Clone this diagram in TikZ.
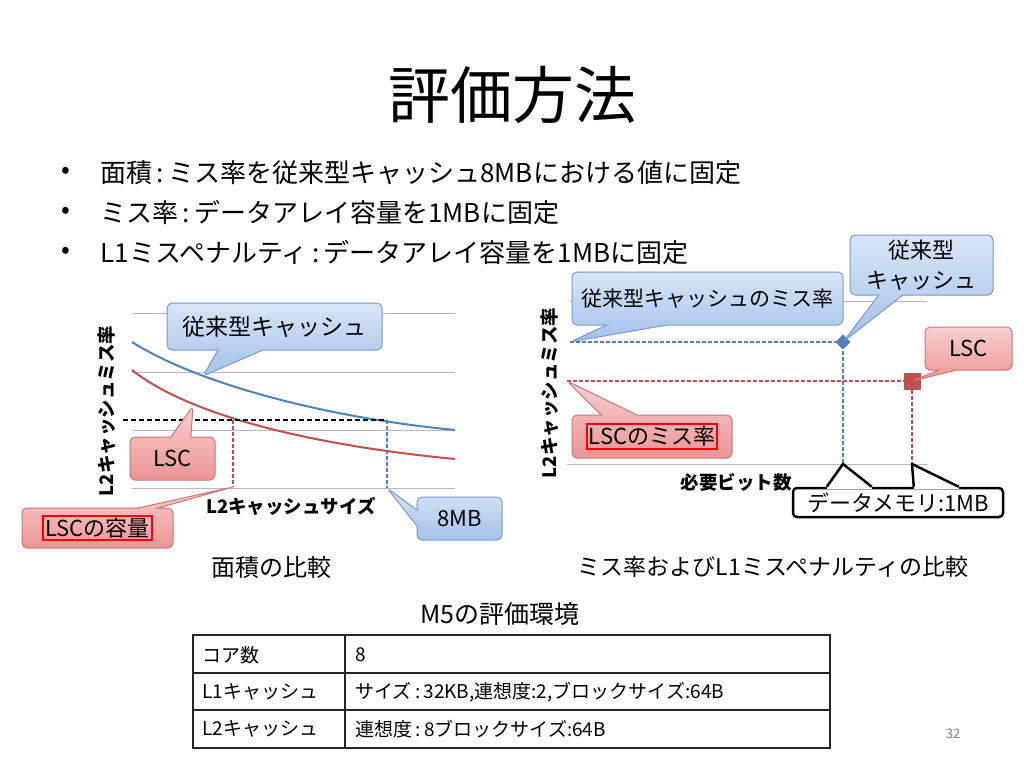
\documentclass[tikz,border=0pt]{standalone}
\usepackage{fontspec}
\setmainfont{Noto Sans CJK JP}
\usetikzlibrary{shapes.callouts,shapes.geometric}

\definecolor{calloutbluetop}{RGB}{216,229,246}
\definecolor{calloutbluebot}{RGB}{164,194,234}
\definecolor{calloutblueedge}{RGB}{120,155,205}
\definecolor{calloutredtop}{RGB}{249,208,208}
\definecolor{calloutredbot}{RGB}{236,148,148}
\definecolor{calloutrededge}{RGB}{205,118,118}
\definecolor{seriesblue}{RGB}{79,129,189}
\definecolor{seriesred}{RGB}{192,80,77}

\tikzset{
  gridline/.style={draw=gray!55, line width=0.8pt},
  callout base/.style={rectangle callout, rounded corners=5pt, line width=1pt,
    inner sep=0pt, align=center, font=\fontsize{22}{30}\selectfont},
  bluecall/.style={callout base, draw=calloutblueedge,
    top color=calloutbluetop, bottom color=calloutbluebot},
  redcall/.style={callout base, draw=calloutrededge,
    top color=calloutredtop, bottom color=calloutredbot},
  axislabel/.style={font=\fontsize{18.5}{20}\selectfont\bfseries},
  bluedash/.style={seriesblue, line width=1.2pt, dash pattern=on 4pt off 2pt},
  reddash/.style={seriesred, line width=1.2pt, dash pattern=on 4pt off 2pt},
  memedge/.style={black, line width=2.5pt, line join=round}
}

\newcommand{\redframe}[1]{\textcolor{red}{\setlength{\fboxrule}{2pt}\setlength{\fboxsep}{1pt}\fbox{\textcolor{black}{#1}}}}

\begin{document}
\begin{tikzpicture}[x=1pt, y=-1pt]
  \useasboundingbox[fill=white] (0,0) rectangle (1024,768);

  % Titulo y puntos
  \node (title) at (512,95) {\fontsize{62}{66}\selectfont 評価方法};
  \begin{scope}[every node/.style={anchor=west, font=\fontsize{26}{30}\selectfont}]
    \node (b1) at (58,173) {•};
    \node (b2) at (58,213) {•};
    \node (b3) at (58,253) {•};
    \node (t1) at (97,173) {面積\,:\,ミス率を従来型キャッシュ8MBにおける値に固定};
    \node (t2) at (97,213) {ミス率\,:\,データアレイ容量を1MBに固定};
    \node (t3) at (97,253) {L1ミスペナルティ\,:\,データアレイ容量を1MBに固定};
  \end{scope}

  % Grafico izquierdo (area)
  \foreach \y in {313,372,430,488}
    \draw[gridline] (132,\y) -- (455,\y);
  \draw[seriesblue, line width=2pt] (132,342) .. controls (200,385) and (330,418) .. (455,430);
  \draw[seriesred, line width=2pt] (132,370) .. controls (195,420) and (330,447) .. (455,459);
  \coordinate (cap) at (233,420);
  \coordinate (conv) at (387,420);
  \coordinate (capx) at (233,487);
  \coordinate (convx) at (387,488);
  \draw[black, line width=1.5pt, dash pattern=on 5pt off 3pt] (123,420) -- (conv);
  \draw[reddash] (cap) -- (capx);
  \draw[bluedash] (conv) -- (convx);
  \node[axislabel, rotate=90] (ylab1) at (107,411) {L2キャッシュミス率};
  \node[axislabel] (xlab1) at (291,506) {L2キャッシュサイズ};

  \coordinate (bluecurve) at (203,376);
  \coordinate (redcurve) at (193,406);
  \node[bluecall, minimum width=215pt, minimum height=47pt,
    callout absolute pointer={(bluecurve)}, callout pointer width=45pt,
    font=\fontsize{23}{26}\selectfont] (convcall) at (274.5,326.5) {従来型キャッシュ};
  \node[redcall, minimum width=85pt, minimum height=43pt,
    callout absolute pointer={(redcurve)}, callout pointer width=20pt] (lsccall) at (172.5,458.5) {LSC};
  \node[redcall, minimum width=151pt, minimum height=40pt,
    callout absolute pointer={(capx)}, callout pointer width=20pt] (capcall) at (97.5,528) {\redframe{LSCの容量}};
  \node[bluecall, minimum width=85pt, minimum height=43pt,
    callout absolute pointer={(convx)}, callout pointer width=16pt] (mbcall) at (459.5,518.5) {8MB};
  \node[font=\fontsize{24}{27}\selectfont] (cap1) at (271,567) {面積の比較};

  % Grafico derecho (tasa de fallos)
  \draw[gridline] (570,301) -- (927,301);
  \draw[gridline] (567,464) -- (927,464);
  \coordinate (convy) at (570,342);
  \coordinate (lscy) at (567,381);
  \coordinate (dbase) at (843,464);
  \coordinate (sbase) at (912,464);
  \node[diamond, fill=seriesblue, inner sep=0pt, minimum size=15pt] (dia) at (843,342) {};
  \node[rectangle, fill=seriesred, inner sep=0pt, minimum size=17pt] (sq) at (912,381) {};
  \draw[bluedash] (convy) -- (dia.center) -- (dbase);
  \draw[reddash] (lscy) -- (sq.center) -- (sbase);
  \node[diamond, fill=seriesblue, inner sep=0pt, minimum size=15pt] at (dia) {};
  \node[rectangle, fill=seriesred, inner sep=0pt, minimum size=17pt] at (sq) {};
  \node[axislabel, rotate=90] (ylab2) at (550,393) {L2キャッシュミス率};
  \node[axislabel] (xlab2) at (736,482) {必要ビット数};

  \node[bluecall, minimum width=271pt, minimum height=53pt,
    callout absolute pointer={(convy)}, callout pointer width=60pt,
    font=\fontsize{21}{24}\selectfont] (ratecall) at (707.5,298.5) {従来型キャッシュのミス率};
  \node[bluecall, minimum width=143pt, minimum height=60pt,
    callout absolute pointer={(dia.center)}, callout pointer width=24pt] (convcall2) at (921.5,265) {従来型\\キャッシュ};
  \node[redcall, minimum width=87pt, minimum height=43pt,
    callout absolute pointer={(sq.center)}, callout pointer width=18pt] (lsccall2) at (968.5,348.5) {LSC};
  \node[redcall, minimum width=160pt, minimum height=43pt,
    callout absolute pointer={(lscy)}, callout pointer width=36pt] (ratecall2) at (652,436.5) {\redframe{LSCのミス率}};

  % Globo con dos punteros
  \node[draw, memedge, fill=white, rounded corners=4pt, minimum width=210pt, minimum height=29pt,
    inner sep=0pt, font=\fontsize{22}{24}\selectfont] (mem) at (898,502.5) {データメモリ:1MB};
  \coordinate (memA1) at ([xshift=35pt]mem.north west);
  \coordinate (memA2) at ([xshift=80pt]mem.north west);
  \coordinate (memB1) at ([xshift=122pt]mem.north west);
  \coordinate (memB2) at ([xshift=167pt]mem.north west);
  \fill[white] (memA1) -- (dbase) -- (memA2) -- ([yshift=-2pt]memA2) -- ([yshift=-2pt]memA1) -- cycle;
  \fill[white] (memB1) -- (sbase) -- (memB2) -- ([yshift=-2pt]memB2) -- ([yshift=-2pt]memB1) -- cycle;
  \draw[memedge] (memA1) -- (dbase) -- (memA2);
  \draw[memedge] (memB1) -- (sbase) -- (memB2);
  \node[font=\fontsize{23}{26}\selectfont] (cap2) at (773,567) {ミス率およびL1ミスペナルティの比較};

  % Tabla
  \node[font=\fontsize{25}{28}\selectfont] (tabcap) at (500,614) {M5の評価環境};
  \draw[line width=1.5pt, black!85] (193,635) rectangle (830,748);
  \draw[line width=1.5pt, black!85] (193,673) -- (830,673);
  \draw[line width=1.5pt, black!85] (193,710) -- (830,710);
  \draw[line width=1.5pt, black!85] (345,635) -- (345,748);
  \begin{scope}[every node/.style={anchor=west, font=\fontsize{19}{22}\selectfont}]
    \node (r1a) at (199,655) {コア数};
    \node (r1b) at (352,655) {8};
    \node (r2a) at (199,692) {L1キャッシュ};
    \node (r2b) at (352,692) {サイズ\,:\,32KB,連想度:2,ブロックサイズ:64B};
    \node (r3a) at (199,729) {L2キャッシュ};
    \node (r3b) at (352,729) {連想度\,:\,8ブロックサイズ:64B};
  \end{scope}
  \node[gray, font=\fontsize{13}{15}\selectfont] (page) at (953,734) {32};

\end{tikzpicture}
\end{document}
